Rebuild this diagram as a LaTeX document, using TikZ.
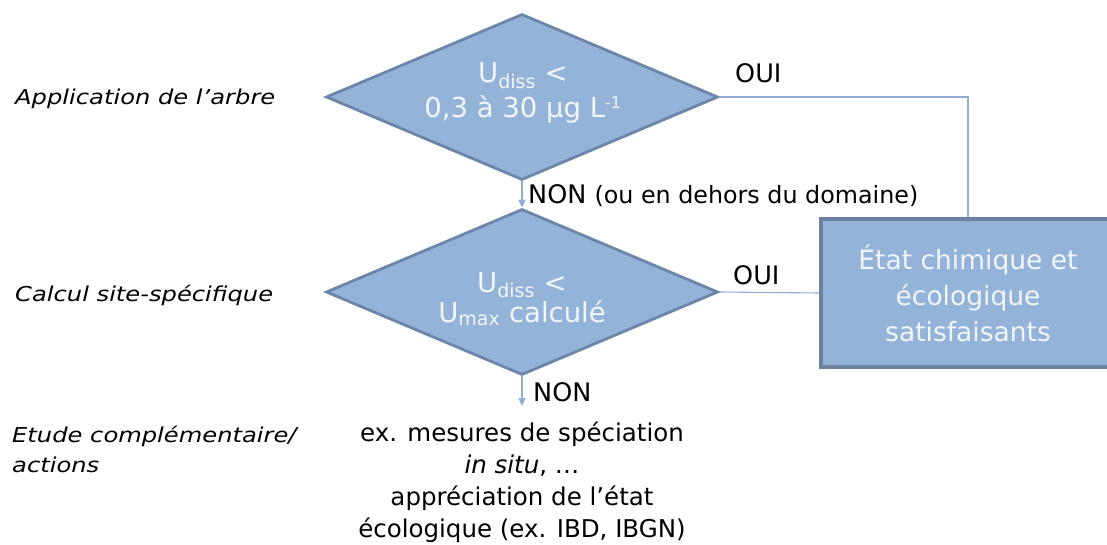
\documentclass[tikz,border=0pt]{standalone}
\usepackage{fontspec}
\setmainfont{DejaVu Sans}
\newfontfamily\sidefont[FakeStretch=1.18,ItalicFeatures={FakeStretch=1.18}]{DejaVu Sans}
\usetikzlibrary{shapes.geometric,arrows.meta}
\definecolor{fillblue}{HTML}{94B3D8}
\definecolor{edgeblue}{HTML}{6C86A8}
\definecolor{boxedge}{HTML}{6E80A0}
\definecolor{linkblue}{HTML}{8EAED8}
\definecolor{txtlight}{HTML}{F2F6FB}
\tikzset{
  decision/.style={shape=diamond, draw=edgeblue, fill=fillblue, line width=2.8pt,
    minimum width=392pt, minimum height=166pt, inner sep=0pt, aspect=2.36},
  dtext/.style={text=txtlight, align=center, inner sep=0pt, anchor=base},
  result/.style={draw=boxedge, fill=fillblue, line width=4pt,
    minimum width=294pt, minimum height=148pt, inner sep=0pt,
    text=txtlight, align=center, font=\fontsize{26.5}{36}\selectfont},
  link/.style={draw=linkblue, line width=1.1pt},
  arrowlink/.style={link, line width=1.4pt, -{Triangle[length=8pt,width=7pt]}},
  lbl/.style={font=\fontsize{25.5}{28}\selectfont, text=black, inner sep=0pt, anchor=base west},
  side/.style={font=\sidefont\fontsize{20.5}{30}\selectfont\itshape, text=black, inner sep=0pt, anchor=base west, align=left},
  body/.style={font=\fontsize{24.5}{31.7}\selectfont, text=black, inner sep=0pt, align=center, anchor=base},
}
\newcommand{\sbs}[1]{\textsubscript{\fontsize{19}{19}\selectfont #1}}
\begin{document}
\begin{tikzpicture}[x=1pt,y=-1pt]
\useasboundingbox[fill=white] (0,0) rectangle (1107,545);
\node[decision] (d1) at (522,97) {};
\node[decision] (d2) at (522,292) {};
\node[dtext, font=\fontsize{27.5}{35}\selectfont] (d1t) at (523,118) {U\sbs{diss} <\\0,3 à 30 µg L\textsuperscript{\fontsize{16}{16}\selectfont -1}};
\node[dtext, font=\fontsize{27.5}{30}\selectfont] (d2t) at (522,322) {U\sbs{diss} <\\U\sbs{max} calculé};
\node[result] (box) at (968,293) {État chimique et\\écologique\\satisfaisants};
\coordinate (end2) at (522,406);
\draw[link] (d1.east) -| (box.north);
\draw[link] (d2.east) -- (box.west);
\draw[arrowlink] (d1.south) -- (d2.north);
\draw[arrowlink] (d2.south) -- (end2);
\node[lbl] (oui1) at (735,83) {OUI};
\node[lbl] (oui2) at (733,284) {OUI};
\node[lbl] (non1) at (528,204) {NON {\fontsize{23.8}{28}\selectfont(ou en dehors du domaine)}};
\node[lbl] (non2) at (533,401) {NON};
\node[side] (s1) at (15,105) {Application de l’arbre};
\node[side] (s2) at (15,301) {Calcul site-spécifique};
\node[side] (s3) at (12,472) {Etude complémentaire/\\actions};
\node[body] (act) at (522,537) {ex. mesures de spéciation\\\textit{in situ}, …\\appréciation de l’état\\écologique (ex. IBD, IBGN)};
\end{tikzpicture}
\end{document}
